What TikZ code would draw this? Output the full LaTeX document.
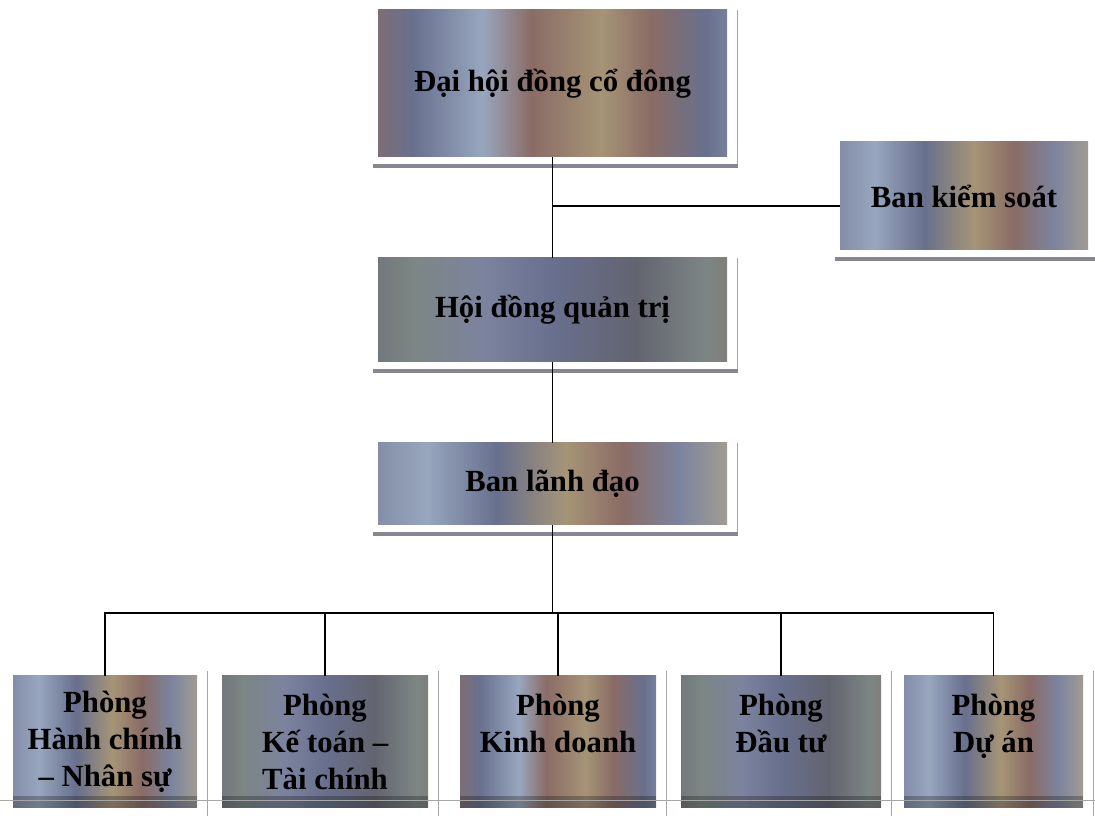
\documentclass[tikz,border=0pt]{standalone}
\usepackage{fontspec}
\setmainfont{Liberation Serif}
\usetikzlibrary{calc}
\definecolor{slateA}{RGB}{104,112,142}
\definecolor{slateB}{RGB}{124,131,158}
\definecolor{rust}{RGB}{138,108,102}
\definecolor{tan}{RGB}{166,148,118}
\definecolor{paleblue}{RGB}{152,166,190}
\definecolor{dgray}{RGB}{100,100,112}
\definecolor{sage}{RGB}{124,134,132}
\definecolor{beige}{RGB}{176,166,142}
\definecolor{shadowgray}{RGB}{135,135,145}
\pgfdeclarehorizontalshading{stripeA}{100bp}{color(0bp)=(slateB); color(12bp)=(slateA);
  color(22bp)=(rust); color(30bp)=(slateA); color(40bp)=(paleblue); color(47bp)=(rust);
  color(57bp)=(tan); color(64bp)=(rust); color(72bp)=(slateA); color(82bp)=(paleblue);
  color(90bp)=(rust); color(100bp)=(slateA)}
\pgfdeclarehorizontalshading{stripeB}{100bp}{color(0bp)=(paleblue); color(12bp)=(beige);
  color(22bp)=(slateB); color(32bp)=(paleblue); color(42bp)=(slateA); color(52bp)=(tan);
  color(60bp)=(rust); color(68bp)=(slateB); color(78bp)=(beige); color(88bp)=(rust);
  color(100bp)=(slateB)}
\pgfdeclarehorizontalshading{stripeC}{100bp}{color(0bp)=(dgray); color(18bp)=(dgray);
  color(30bp)=(sage); color(40bp)=(slateB); color(50bp)=(slateA); color(62bp)=(dgray);
  color(72bp)=(sage); color(82bp)=(rust); color(92bp)=(dgray); color(100bp)=(slateA)}
\tikzset{
  box/.style={shading=#1,inner sep=0pt,outer sep=0pt,align=center,
    font=\bfseries\fontsize{17.5}{21}\selectfont},
  dept/.style={box=#1,minimum height=2.64cm},
  conn/.style={line width=1.1pt,black},
  frameline/.style={line width=0.5pt,gray!70},
  shadowbar/.style={fill=shadowgray}
}

\begin{document}
\begin{tikzpicture}
    \useasboundingbox (0,0) rectangle (21.9,16.32);

    % upper boxes
    \node[box=stripeA,minimum width=6.98cm,minimum height=2.94cm] (dhcd) at (11.05,14.65) {Đại hội đồng cổ đông};
    \node[box=stripeB,minimum width=4.96cm,minimum height=2.16cm] (bks) at (19.28,12.4) {Ban kiểm soát};
    \node[box=stripeC,minimum width=6.98cm,minimum height=2.08cm] (hdqt) at (11.05,10.12) {Hội đồng quản trị};
    \node[box=stripeB,minimum width=6.98cm,minimum height=1.64cm] (bld) at (11.05,6.64) {Ban lãnh đạo};

    \foreach \n in {dhcd,bks,hdqt,bld}{
      \draw[frameline] ([xshift=0.2cm]\n.north east) -- ([xshift=0.2cm,yshift=-0.2cm]\n.south east);
      \fill[shadowbar] ([xshift=-0.1cm,yshift=-0.14cm]\n.south west) rectangle ([xshift=0.22cm,yshift=-0.22cm]\n.south east);
    }

    % departments
    \node[dept=stripeB,minimum width=3.68cm] (pHC) at (2.10,1.48) {Phòng\\Hành chính\\– Nhân sự};
    \node[dept=stripeC,minimum width=4.12cm] (pKT) at (6.50,1.48) {Phòng\\Kế toán –\\Tài chính};
    \node[dept=stripeA,minimum width=3.92cm] (pKD) at (11.16,1.48) {Phòng\\Kinh doanh\\\mbox{}};
    \node[dept=stripeC,minimum width=4.00cm] (pDT) at (15.62,1.48) {Phòng\\Đầu tư\\\mbox{}};
    \node[dept=stripeB,minimum width=3.58cm] (pDA) at (19.87,1.48) {Phòng\\Dự án\\\mbox{}};

    \foreach \n in {pHC,pKT,pKD,pDT,pDA}{
      \fill[black,opacity=0.25] (\n.south west) rectangle ([yshift=0.24cm]\n.south east);
      \draw[frameline] ([xshift=0.2cm,yshift=0.1cm]\n.north east) -- ([xshift=0.2cm]\n.south east |- 0,0);
    }
    \draw[frameline] (0,0.32) -- (21.9,0.32);

    % connectors
    \coordinate (bus) at (11.1,4.06);
    \draw[conn] (dhcd.south) -- (hdqt.north);
    \draw[conn] ([yshift=-0.2cm]bks.west) -- ([yshift=-0.2cm]bks.west -| dhcd.south);
    \draw[conn] (hdqt.south) -- (bld.north);
    \draw[conn] (bld.south) -- (bld.south |- bus);
    \draw[conn] (pHC.north) |- (bus) -| (pDA.north);
    \foreach \n in {pKT,pKD,pDT}
      \draw[conn] (\n.north) -- (\n.north |- bus);
\end{tikzpicture}
\end{document}
